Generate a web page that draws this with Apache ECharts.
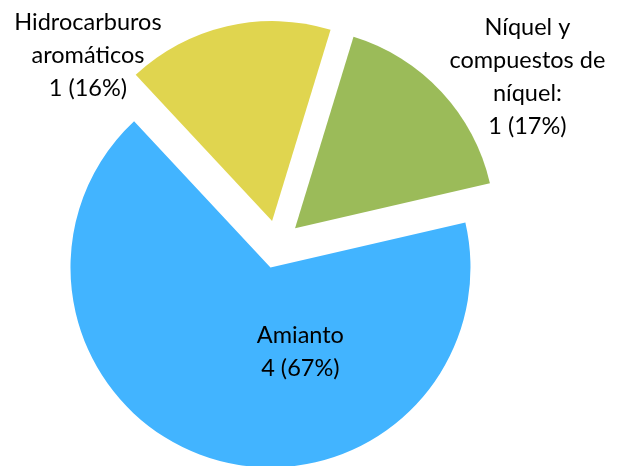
<!DOCTYPE html>
<html>
<head>
<meta charset="utf-8">
<script src="https://cdn.jsdelivr.net/npm/echarts@6/dist/echarts.min.js"></script>
<style>html,body{margin:0;padding:0;background:#fff}#c{width:617px;height:466px}</style>
</head>
<body>
<div id="c"></div>
<script>
const categories = ['Níquel y\ncompuestos de\nníquel:', 'Amianto', 'Hidrocarburos\naromáticos'];
const counts = [1, 4, 1];
const percents = [17, 67, 16];
const colors = ['#9BBB59', '#42B4FF', '#E0D54F'];

// label shifts from the default inside-label anchor of each slice
const labelShift = [[157, -81], [60, -14], [-161, -65]];

const chart = echarts.init(document.getElementById('c'), null, {renderer: 'canvas'});
chart.setOption({
  animation: false,
  series: [{
    type: 'pie',
    center: [277.5, 244.5],
    radius: [0, 200],
    startAngle: 73,
    clockwise: true,
    selectedMode: 'multiple',
    selectedOffset: 24,
    avoidLabelOverlap: false,
    emphasis: {disabled: true},
    label: {
      show: true,
      position: 'inside',
      color: '#000',
      fontFamily: 'Lato',
      fontSize: 23.5,
      lineHeight: 33,
      align: 'center',
      verticalAlign: 'middle',
      formatter: p => p.name + '\n' + counts[p.dataIndex] + ' (' + percents[p.dataIndex] + '%)'
    },
    labelLine: {show: false},
    labelLayout: function (p) {
      const s = labelShift[p.dataIndex];
      return {dx: s[0], dy: s[1]};
    },
    data: categories.map((n, i) => ({
      name: n, value: counts[i], selected: true,
      itemStyle: {color: colors[i]}
    }))
  }]
});
</script>
</body>
</html>
